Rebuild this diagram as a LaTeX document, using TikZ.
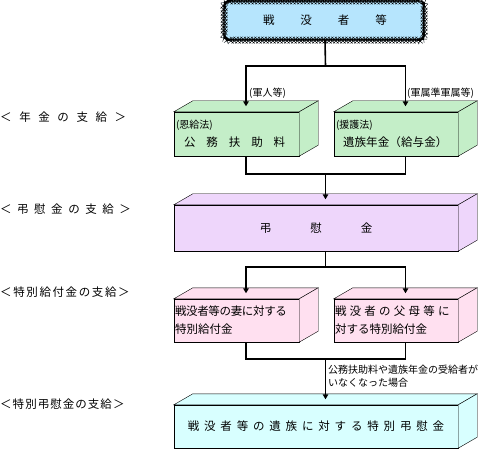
\documentclass[tikz,border=0pt]{standalone}
\usepackage{fontspec}
\setmainfont{Noto Sans CJK JP}
\usetikzlibrary{arrows.meta,decorations.pathmorphing}

\definecolor{skyblue}{RGB}{182,229,253}
\definecolor{mintgreen}{RGB}{196,238,200}
\definecolor{lilac}{RGB}{238,214,251}
\definecolor{lightpink}{RGB}{255,224,240}
\definecolor{paleaqua}{RGB}{216,255,255}

% letter spacing
\newcommand{\ls}[2]{{\addfontfeatures{LetterSpace=#1}#2}}
% top and side face of a solid box, plus the two points where lines meet it
\newcommand{\boxfaces}[2]{%
  \filldraw[fill=#2] (#1.north west) -- ++(19,-11) -- ([shift={(19,-11)}]#1.north east) -- (#1.north east) -- cycle;
  \filldraw[fill=#2] (#1.north east) -- ++(19,-11) -- ([shift={(19,-11)}]#1.south east) -- (#1.south east) -- cycle;
  \coordinate (#1 top) at ([shift={(9.5,-5.5)}]#1.north);
  \coordinate (#1 bot) at ([xshift=9.5pt]#1.south);}

\begin{document}
\begin{tikzpicture}[x=1pt, y=-1pt, font=\fontsize{11.5}{18}\selectfont,
    solid/.style={draw, fill=#1, inner sep=0pt, minimum height=44pt},
    wavy/.style={draw, line width=0.4pt, fill=skyblue, rounded corners=5pt, decorate,
      decoration={snake, segment length=3.5pt, amplitude=0.5pt}},
    line/.style={line width=1.6pt},
    arr/.style={line width=1.6pt, -{Triangle[length=5pt,width=5.5pt]}},
    side/.style={anchor=west, inner sep=0pt},
    small/.style={font=\fontsize{10}{13}\selectfont, inner sep=0pt}]
  \useasboundingbox (0,0) rectangle (495,449);

  % left headings
  \node[side] (h1) at (0,117) {\ls{66}{＜年金の支給＞}};
  \node[side] (h2) at (0,209) {\ls{48}{＜弔慰金の支給＞}};
  \node[side] (h3) at (0,292) {\ls{14}{＜特別給付金の支給＞}};
  \node[side] (h4) at (0,404) {\ls{9}{＜特別弔慰金の支給＞}};

  % boxes
  \node[wavy, minimum width=200pt, minimum height=39pt] (war) at (325,20.5)
    {戦\hspace{26pt}没\hspace{26pt}者\hspace{26pt}等};

  \node[solid=mintgreen, minimum width=125pt, align=left, text width=121pt] (onkyu) at (236.5,134)
    {{\fontsize{10}{18}\selectfont (恩給法)}\\\hspace*{8pt}\ls{95}{公務扶助料}};
  \boxfaces{onkyu}{mintgreen}
  \node[solid=mintgreen, minimum width=124pt, align=left, text width=120pt] (engo) at (396,134)
    {{\fontsize{10}{18}\selectfont (援護法)}\\\hspace*{7pt}\ls{1}{遺族年金（給与金）}};
  \boxfaces{engo}{mintgreen}

  \node[solid=lilac, minimum width=284pt, minimum height=46pt] (choi) at (316,228)
    {弔\hspace{39pt}慰\hspace{39pt}金};
  \boxfaces{choi}{lilac}

  \node[solid=lightpink, minimum width=125pt, minimum height=43pt, align=left, text width=123pt] (tsuma) at (236.5,320.5)
    {\ls{-3}{戦没者等の妻に対する}\\特別給付金};
  \boxfaces{tsuma}{lightpink}
  \node[solid=lightpink, minimum width=124pt, minimum height=43pt, align=left, text width=122pt] (fubo) at (396,320.5)
    {\ls{28}{戦没者の父母等に}\\対する特別給付金};
  \boxfaces{fubo}{lightpink}

  \node[solid=paleaqua, minimum width=284pt, minimum height=43pt] (izoku) at (316,426.5)
    {\ls{42}{戦没者等の遺族に対する特別弔慰金}};
  \boxfaces{izoku}{paleaqua}

  % connectors
  \coordinate (f1) at (325.5,66);
  \coordinate (f2) at (325.5,174);
  \coordinate (f3) at (325.5,267);
  \coordinate (f4) at (325.5,359);
  \draw[line] (war.south) -- (f1);
  \draw[arr] (f1) -| (onkyu top);
  \draw[arr] (f1) -| (engo top);
  \draw[line] (onkyu bot) |- (f2);
  \draw[line] (engo bot) |- (f2);
  \draw[arr] (f2) -- (choi top);
  \draw[line] (choi bot) -- (f3);
  \draw[arr] (f3) -| (tsuma top);
  \draw[arr] (f3) -| (fubo top);
  \draw[line] (tsuma bot) |- (f4);
  \draw[line] (fubo bot) |- (f4);
  \draw[arr] (f4) -- (izoku top);

  % connector labels
  \node[small, anchor=west] (l1) at (249,93) {(軍人等)};
  \node[small, anchor=west] (l2) at (407,93) {(軍属準軍属等)};
  \node[small, anchor=north west, align=left] (l3) at (328,365)
    {公務扶助料や遺族年金の受給者が\\いなくなった場合};
\end{tikzpicture}
\end{document}
